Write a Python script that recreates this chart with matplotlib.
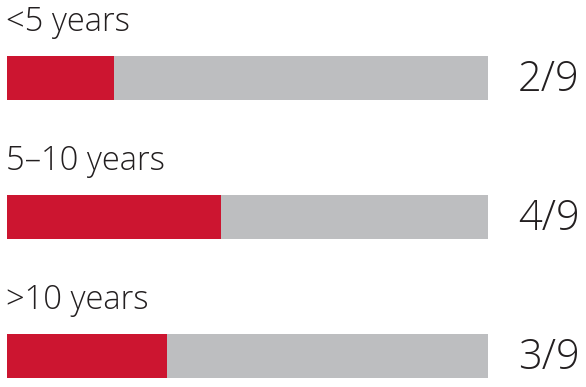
import matplotlib
matplotlib.use("Agg")
import matplotlib.pyplot as plt

# data
categories = ["<5 years", "5\u201310 years", ">10 years"]
counts = [2, 4, 3]
total = 9

RED = "#cc1530"
GREY = "#bdbec0"
TEXT = "#231f20"

plt.rcParams["font.family"] = ["Open Sans", "DejaVu Sans"]

W, H = 586, 387
fig = plt.figure(figsize=(W / 100, H / 100), dpi=100)
half = 0.1583  # half bar height in category units
ax = fig.add_axes([7 / W, 9 / H, 481 / W, 322 / H])
ax.set_xlim(0, 1)
ax.set_ylim(len(categories) - 1 + half, -half)
ax.axis("off")

ys = list(range(len(categories)))
ax.barh(ys, [1] * len(ys), height=2 * half, color=GREY, left=0)
ax.barh(ys, [c / total for c in counts], height=2 * half, color=RED, left=0)

for y, cat, c in zip(ys, categories, counts):
    ax.text(-0.002, y - half - 0.18, cat, fontsize=23.5, color=TEXT,
            fontweight="light", ha="left", va="baseline", clip_on=False)
    ax.text(1.191, y + 0.01, f"{c}/{total}", fontsize=30, color=TEXT,
            fontweight="light", ha="right", va="center", clip_on=False)

fig.savefig("out.png", dpi=100)
